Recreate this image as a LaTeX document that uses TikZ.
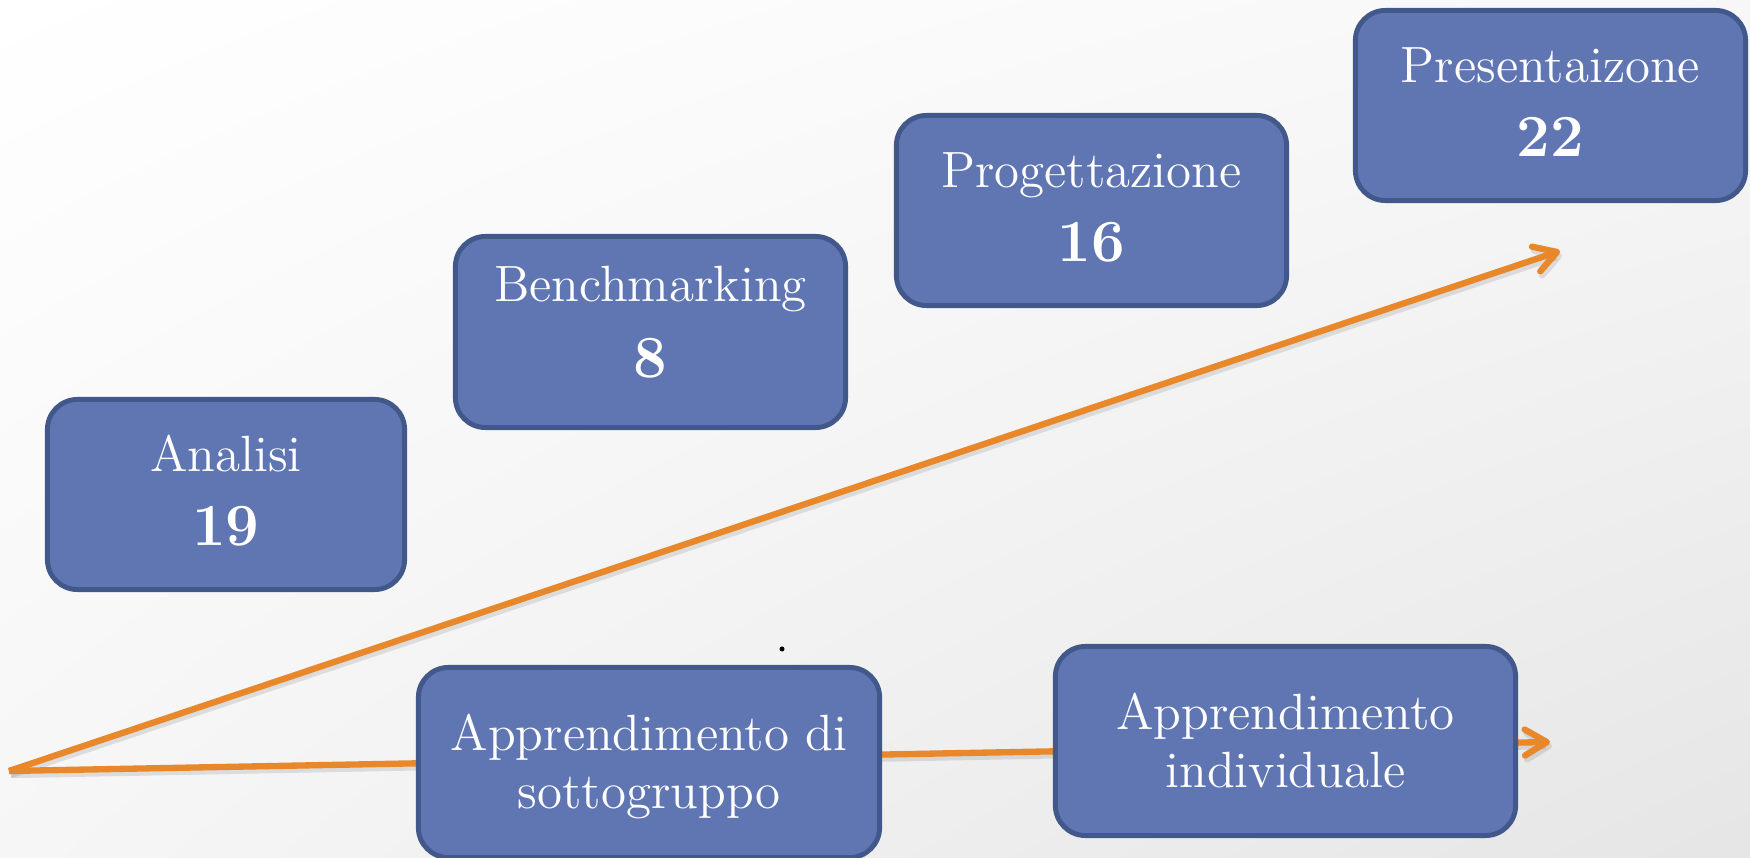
\documentclass[tikz,border=0pt]{standalone}
\usetikzlibrary{arrows.meta,shadings}
\definecolor{boxfill}{HTML}{5F76B3}
\definecolor{boxline}{HTML}{42578A}
\definecolor{arr}{HTML}{E8882B}
\begin{document}
\begin{tikzpicture}[x=0.01cm,y=-0.01cm,
  box/.style={draw=boxline, fill=boxfill, line width=1.4pt, rounded corners=0.3cm, inner sep=0pt},
  ttl/.style={anchor=base, text=white, font=\fontsize{14.5}{16}\selectfont, inner sep=0pt},
  num/.style={anchor=base, text=white, font=\fontsize{17}{20}\selectfont\bfseries, inner sep=0pt},
  flow/.style={draw=arr, line width=1.8pt, -{Straight Barb[length=0.22cm,width=0.26cm,line cap=round,round]}},
  flowshadow/.style={flow, draw=black, opacity=0.10, transform canvas={xshift=0.02cm,yshift=-0.04cm}},
  dotmark/.style={circle, fill=black, inner sep=0pt, minimum size=0.05cm}
]
\useasboundingbox (0,0) rectangle (1750,858);
\shade[upper left=white, upper right=gray!6, lower left=gray!7, lower right=gray!20] (0,0) rectangle (1750,858);

% arrows
\coordinate (o) at (9,771);
\coordinate (tu) at (1560,251);
\coordinate (tl) at (1550,742);
\draw[flowshadow] (o) -- (tu);
\draw[flowshadow] (o) -- (tl);
\draw[flow] (o) -- (tu);
\draw[flow] (o) -- (tl);

% boxes
\node[box, minimum width=3.57cm, minimum height=1.90cm] (ana) at (226,494.5) {};
\node[box, minimum width=3.90cm, minimum height=1.91cm] (ben) at (650.5,332) {};
\node[box, minimum width=3.90cm, minimum height=1.90cm] (pro) at (1091.5,210.5) {};
\node[box, minimum width=3.90cm, minimum height=1.90cm] (pre) at (1550.5,105.5) {};
\node[box, minimum width=4.61cm, minimum height=1.90cm] (sot) at (649,762.5) {};
\node[box, minimum width=4.60cm, minimum height=1.89cm] (ind) at (1285.5,741) {};

% texts
\node[ttl] (anaT) at ([yshift=0.225cm]ana.center) {Analisi};
\node[num] (anaN) at ([yshift=-0.51cm]ana.center) {19};
\node[ttl] (benT) at ([yshift=0.30cm]ben.center) {Benchmarking};
\node[num] (benN) at ([yshift=-0.45cm]ben.center) {8};
\node[ttl] (proT) at ([yshift=0.225cm]pro.center) {Progettazione};
\node[num] (proN) at ([yshift=-0.51cm]pro.center) {16};
\node[ttl] (preT) at ([yshift=0.225cm]pre.center) {Presentaizone};
\node[num] (preN) at ([yshift=-0.51cm]pre.center) {22};
\node[ttl] (sotT) at ([yshift=0.115cm]sot.center) {Apprendimento di};
\node[ttl] (sotB) at ([yshift=-0.455cm]sot.center) {sottogruppo};
\node[ttl] (indT) at ([yshift=0.11cm]ind.center) {Apprendimento};
\node[ttl] (indB) at ([yshift=-0.46cm]ind.center) {individuale};

\node[dotmark] (dot) at (782,649) {};
\end{tikzpicture}
\end{document}
